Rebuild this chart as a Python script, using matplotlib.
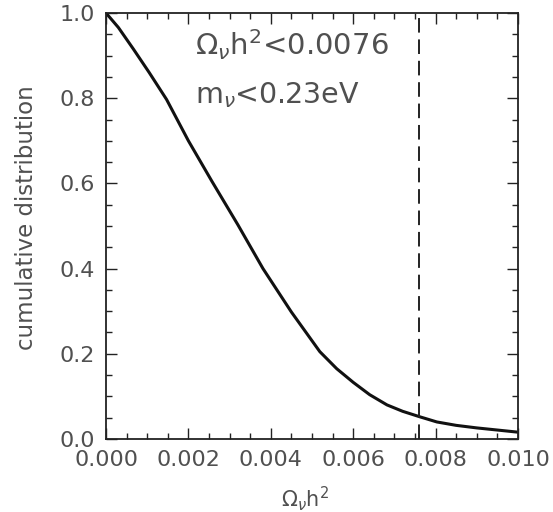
import numpy as np
import matplotlib
matplotlib.use('Agg')
import matplotlib.pyplot as plt
from matplotlib.ticker import MultipleLocator

# cumulative distribution
omega_h2 = [0.0, 0.00030, 0.00066, 0.00105, 0.00147, 0.00200, 0.00257, 0.00320,
            0.00381, 0.00450, 0.00519, 0.00560, 0.00600, 0.00640, 0.00682,
            0.00720, 0.00762, 0.00803, 0.00850, 0.00900, 0.00950, 0.0100]
cum_dist = [1.0, 0.966, 0.916, 0.860, 0.797, 0.700, 0.605, 0.503,
            0.400, 0.298, 0.205, 0.165, 0.133, 0.104, 0.080,
            0.065, 0.052, 0.040, 0.032, 0.026, 0.021, 0.016]
limit = 0.0076
xticks = [0.000, 0.002, 0.004, 0.006, 0.008, 0.010]
yticks = [0.0, 0.2, 0.4, 0.6, 0.8, 1.0]

grey = '#505050'
plt.rcParams['font.family'] = ['DejaVu Sans']
plt.rcParams['mathtext.fontset'] = 'dejavusans'

fig = plt.figure(figsize=(5.53, 5.12), dpi=100)
ax = fig.add_axes([0.1917, 0.1426, 0.745, 0.832])

ax.plot(omega_h2, cum_dist, color='#111111', lw=2.2)
ax.axvline(limit, color='#222222', lw=1.4, ls=(0, (7.5, 3.5)))

ax.set_xlim(0, 0.010)
ax.set_ylim(0, 1.0)
ax.set_xticks(xticks)
ax.set_xticklabels(['%.3f' % v for v in xticks])
ax.set_yticks(yticks)
ax.set_yticklabels(['%.1f' % v for v in yticks])
ax.xaxis.set_minor_locator(MultipleLocator(0.0005))
ax.yaxis.set_minor_locator(MultipleLocator(0.05))
ax.tick_params(which='both', direction='in', top=True, right=True,
               labelsize=16, labelcolor=grey, color='#222222', pad=8)
ax.tick_params(which='major', length=8, width=1)
ax.tick_params(which='minor', length=4, width=1)
for s in ax.spines.values():
    s.set_color('#222222')
    s.set_linewidth(1.3)

ax.set_xlabel(r'$\Omega_\nu\mathrm{h}^2$', fontsize=15, color=grey)
ax.xaxis.set_label_coords(0.483, -0.105)
ax.set_ylabel('cumulative distribution', fontsize=16.5, color=grey)
ax.yaxis.set_label_coords(-0.165, 0.52)

ax.text(0.00216, 0.925, r'$\Omega_\nu\mathrm{h}^2$<0.0076', fontsize=21,
        color=grey, va='center', ha='left')
ax.text(0.00216, 0.807, r'm$_\nu$<0.23eV', fontsize=20.5, color=grey,
        va='center', ha='left')

fig.savefig('out.png', dpi=100)
